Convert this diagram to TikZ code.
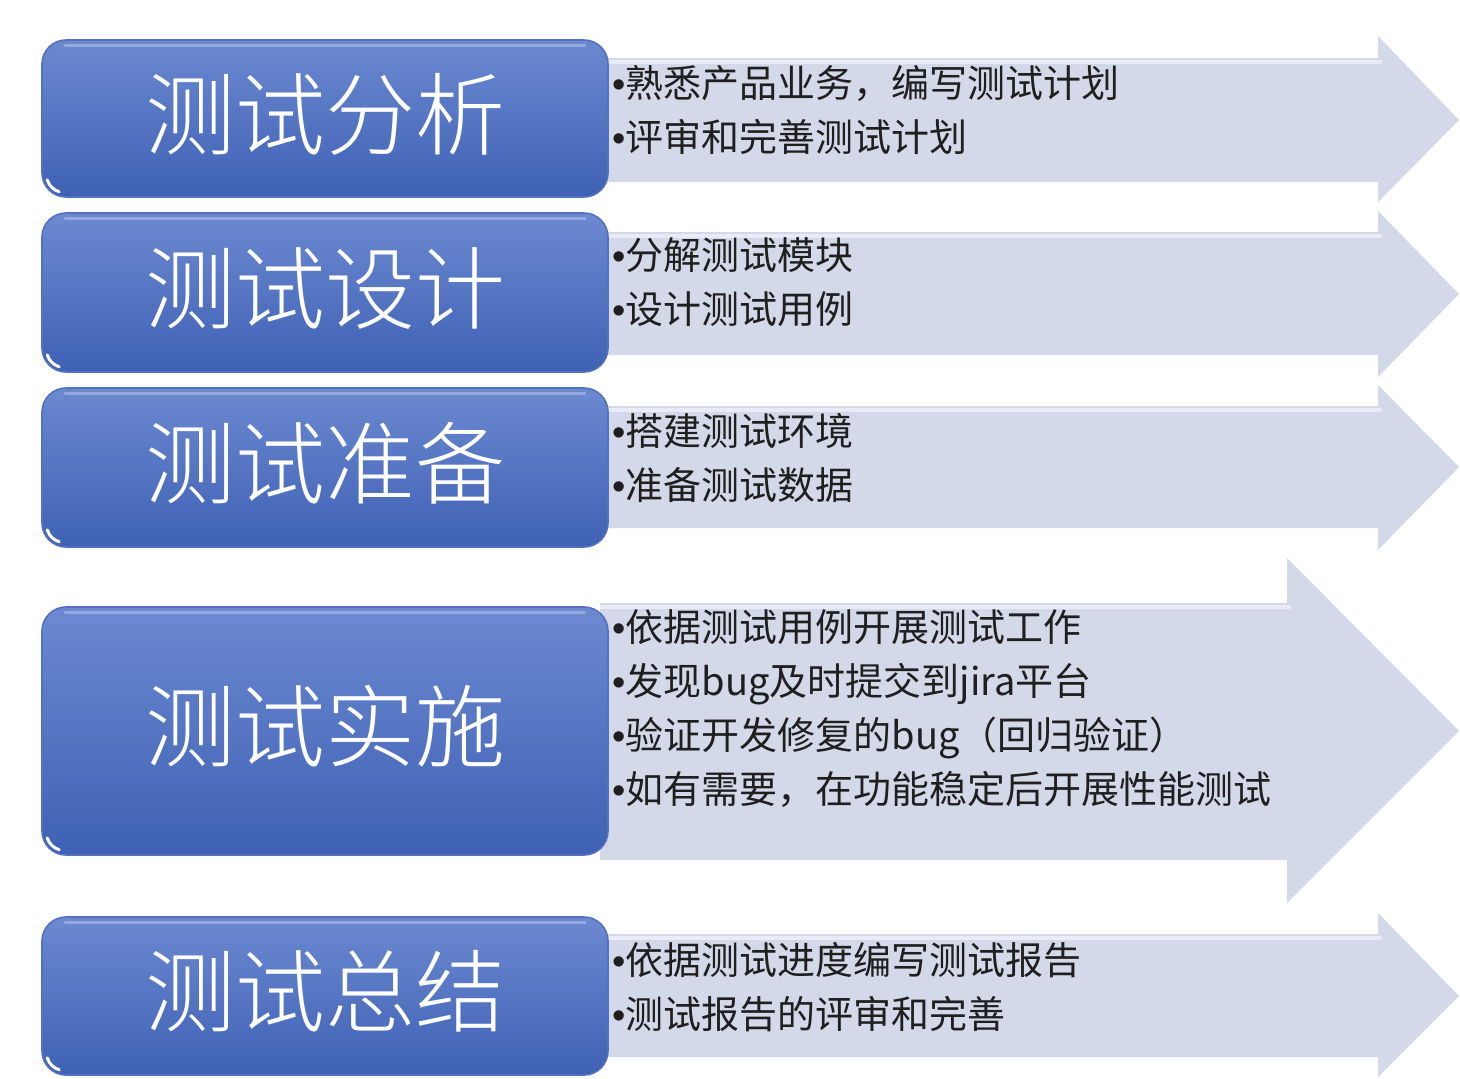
\documentclass[tikz,border=0pt]{standalone}
\usepackage{fontspec}
\setmainfont{Noto Sans CJK SC}
\newfontfamily\thinfont{Noto Sans CJK SC Light}
\newfontfamily\latinfont{Liberation Sans}
\usetikzlibrary{calc}
\definecolor{boxtop}{HTML}{6C89D0}
\definecolor{boxbot}{HTML}{3F61B5}
\definecolor{boxline}{HTML}{5471BE}
\definecolor{boxhi}{HTML}{94AADF}
\definecolor{arrowfill}{HTML}{D4D9EA}
\definecolor{arrowhi}{HTML}{E9ECF6}
\newcommand{\dotitem}{{\latinfont\textbullet}}
\begin{document}
\begin{tikzpicture}[x=0.5pt,y=-0.5pt,
    stage/.style={rounded corners=12pt, top color=boxtop, bottom color=boxbot,
        draw=boxline, line width=0.8pt, minimum width=283pt, inner sep=0pt,
        text=white, font=\thinfont\fontsize{45}{45}\selectfont,
        text height=36pt, text depth=6.5pt},
    gloss/.style={draw=boxhi, line width=1.5pt, line cap=round},
    glint/.style={draw=white, line width=1.5pt, line cap=round},
    arrowbg/.style={fill=arrowfill},
    shine/.style={draw=arrowhi, line width=2pt},
    items/.style={anchor=base west, align=left, inner sep=0pt,
        text=black!88, font=\fontsize{19}{27}\selectfont}]
\useasboundingbox (0,0) rectangle (1460,1078);

% arrows
\fill[arrowbg] (600,58) -- (1378,58) -- (1378,36) -- (1459,120) -- (1378,202) -- (1378,182) -- (600,182) -- cycle;
\fill[arrowbg] (600,232) -- (1378,232) -- (1378,211) -- (1459,294) -- (1378,377) -- (1378,355) -- (600,355) -- cycle;
\fill[arrowbg] (600,406) -- (1378,406) -- (1378,385) -- (1459,467) -- (1378,550) -- (1378,528) -- (600,528) -- cycle;
\fill[arrowbg] (600,603) -- (1287,603) -- (1287,558) -- (1459,731) -- (1287,903) -- (1287,860) -- (600,860) -- cycle;
\fill[arrowbg] (600,934) -- (1378,934) -- (1378,913) -- (1459,996) -- (1378,1077) -- (1378,1057) -- (600,1057) -- cycle;
\draw[shine] (600,62) -- (1382,62);
\draw[shine] (600,236) -- (1382,236);
\draw[shine] (600,410) -- (1382,410);
\draw[shine] (600,607) -- (1291,607);
\draw[shine] (600,938) -- (1382,938);

% boxes
\node[stage, minimum height=78.5pt] (fx) at (325,118.5) {测试分析};
\node[stage, minimum height=79.5pt] (sj) at (325,292.5) {测试设计};
\node[stage, minimum height=79.5pt] (zb) at (325,467.5) {测试准备};
\node[stage, minimum height=124pt] (ss) at (325,731) {测试实施};
\node[stage, minimum height=79pt] (zj) at (325,996) {测试总结};

% top shine and corner glint
\draw[gloss] ($(fx.north west)+(12pt,-3pt)$) -- ($(fx.north east)+(-12pt,-3pt)$);
\draw[gloss] ($(sj.north west)+(12pt,-3pt)$) -- ($(sj.north east)+(-12pt,-3pt)$);
\draw[gloss] ($(zb.north west)+(12pt,-3pt)$) -- ($(zb.north east)+(-12pt,-3pt)$);
\draw[gloss] ($(ss.north west)+(12pt,-3pt)$) -- ($(ss.north east)+(-12pt,-3pt)$);
\draw[gloss] ($(zj.north west)+(12pt,-3pt)$) -- ($(zj.north east)+(-12pt,-3pt)$);
\draw[glint] ($(fx.south west)+(3pt,9pt)$) to[bend right=25] ($(fx.south west)+(9pt,3pt)$);
\draw[glint] ($(sj.south west)+(3pt,9pt)$) to[bend right=25] ($(sj.south west)+(9pt,3pt)$);
\draw[glint] ($(zb.south west)+(3pt,9pt)$) to[bend right=25] ($(zb.south west)+(9pt,3pt)$);
\draw[glint] ($(ss.south west)+(3pt,9pt)$) to[bend right=25] ($(ss.south west)+(9pt,3pt)$);
\draw[glint] ($(zj.south west)+(3pt,9pt)$) to[bend right=25] ($(zj.south west)+(9pt,3pt)$);

% items
\node[items] (fxt) at (612,151) {\dotitem 熟悉产品业务，编写测试计划\\\dotitem 评审和完善测试计划};
\node[items] (sjt) at (612,323) {\dotitem 分解测试模块\\\dotitem 设计测试用例};
\node[items] (zbt) at (612,499) {\dotitem 搭建测试环境\\\dotitem 准备测试数据};
\node[items] (sst) at (612,803) {\dotitem 依据测试用例开展测试工作\\\dotitem 发现bug及时提交到jira平台\\\dotitem 验证开发修复的bug（回归验证）\\\dotitem 如有需要，在功能稳定后开展性能测试};
\node[items] (zjt) at (612,1028) {\dotitem 依据测试进度编写测试报告\\\dotitem 测试报告的评审和完善};
\end{tikzpicture}
\end{document}
